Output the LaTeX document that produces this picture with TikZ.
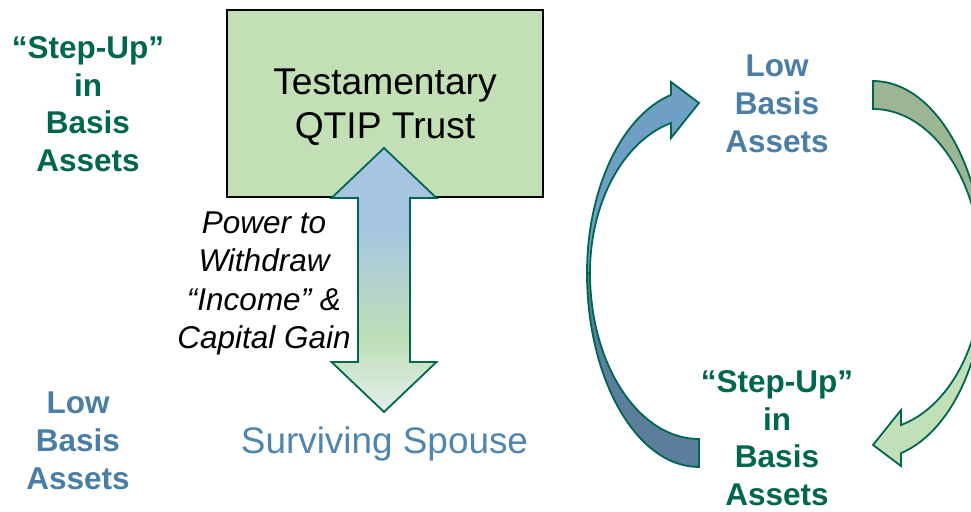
\documentclass[tikz,border=0pt]{standalone}
\usepackage{fontspec}
\setmainfont{Liberation Sans}
\usepackage{tikz}
\usetikzlibrary{calc, positioning}
\definecolor{stepgreen}{HTML}{00664F}
\definecolor{basisblue}{HTML}{4A7EA4}
\definecolor{spouseblue}{HTML}{5085AE}
\definecolor{trustgreen}{HTML}{C2DFB6}
\definecolor{arrowline}{HTML}{00664F}
\definecolor{shaftblue}{HTML}{A7C5E2}
\definecolor{shaftgreen}{HTML}{BEDFB6}
\definecolor{shafttip}{HTML}{E3EEEC}
\definecolor{loopblue}{HTML}{6F9FC5}
\definecolor{loopbluedark}{HTML}{5A7E9B}
\definecolor{loopgreen}{HTML}{C2E0B7}
\definecolor{loopgreendark}{HTML}{9CB592}
\pgfdeclareverticalshading{withdrawshade}{100bp}{color(0bp)=(shafttip); color(25bp)=(shafttip); color(39bp)=(shaftgreen); color(60bp)=(shaftblue); color(100bp)=(shaftblue)}
\tikzstyle{trust} = [rectangle, draw=black, line width=1.8pt, fill=trustgreen, minimum width=316pt, minimum height=187pt]
\tikzstyle{trustlabel} = [align=center, font=\fontsize{37.2}{44}\selectfont]
\tikzstyle{stepup} = [align=center, text=stepgreen, font=\bfseries\fontsize{31.5}{37.5}\selectfont]
\tikzstyle{lowbasis} = [align=center, text=basisblue, font=\bfseries\fontsize{31.5}{38}\selectfont]
\tikzstyle{power} = [align=center, font=\itshape\fontsize{31.5}{38.5}\selectfont]
\tikzstyle{spouse} = [text=spouseblue, font=\fontsize{36.9}{44}\selectfont]
\tikzstyle{withdraw} = [shading=withdrawshade, draw=arrowline, line width=1.8pt, line join=miter]
\tikzstyle{loopedge} = [draw=arrowline, line width=1.8pt, line join=miter]

\begin{document}
\begin{tikzpicture}[x=1pt, y=1pt]
		\useasboundingbox (0,0) rectangle (971,511);
		\clip (0,0) rectangle (971,511);
		\node (Trust) [trust] at (385,407.5) {};
		\node (TrustLabel) [trustlabel] at ($(Trust.center)+(0,-4)$) {Testamentary\\QTIP Trust};
		\coordinate (WithdrawTop) at (384,363);
		\coordinate (WithdrawBottom) at (384,99);
		\node (Spouse) [spouse] at (384.5,67) {Surviving Spouse};
		\node (Power) [power] at (264,227.5) {Power to\\Withdraw\\``Income'' \&\\Capital Gain};
		\node (StepUpLeft) [stepup] at (88,407) {``Step-Up''\\in\\Basis\\Assets};
		\node (LowLeft) [lowbasis] at (78,70) {Low\\Basis\\Assets};
		\node (LowRight) [lowbasis] at (777,407.5) {Low\\Basis\\Assets};
		\node (StepUpRight) [stepup] at (777,73) {``Step-Up''\\in\\Basis\\Assets};
		
		\shade[withdraw] (WithdrawTop) -- ++(52.5,-50) -- ++(-26.5,0) -- ++(0,-164) -- ++(26.5,0) -- (WithdrawBottom) -- ++(-52.5,50) -- ++(26.5,0) -- ++(0,164) -- ++(-26.5,0) -- cycle;
		
		\foreach \ang/\dark/\light in {0/loopbluedark/loopblue, 180/loopgreendark/loopgreen}{
			\begin{scope}[rotate around={\ang:(786,237)}]
				\filldraw[loopedge, fill=\dark] (587,238) arc[start angle=180, end angle=270, x radius=112, y radius=194] -- ++(0,28) arc[start angle=270, end angle=180, x radius=109, y radius=166] -- cycle;
				\filldraw[loopedge, fill=\light] (587,238) arc[start angle=180, end angle=104.48, x radius=112, y radius=184] -- (671,429) -- (699,408) -- (671,373) -- (671,388) arc[start angle=104.88, end angle=180, x radius=109, y radius=155] -- cycle;
			\end{scope}
		}
\end{tikzpicture}
\end{document}
